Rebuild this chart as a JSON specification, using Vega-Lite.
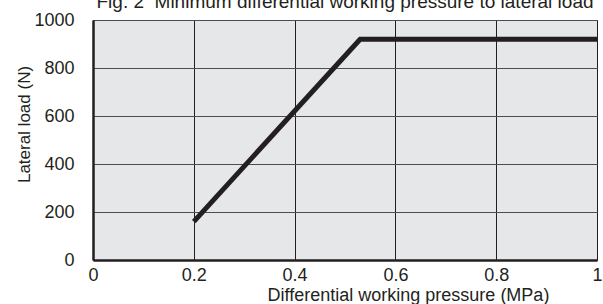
{
  "$schema": "https://vega.github.io/schema/vega-lite/v6.json",
  "width": 504,
  "height": 240,
  "autosize": {"type": "none"},
  "padding": {"left": 93, "top": 20, "right": 6, "bottom": 44},
  "background": "white",
  "title": {
    "text": "Fig. 2\u00a0 Minimum differential working pressure to lateral load",
    "anchor": "middle",
    "frame": "group",
    "baseline": "alphabetic",
    "offset": 10,
    "dy": 26,
    "fontSize": 19,
    "fontWeight": "normal",
    "font": "Liberation Sans",
    "color": "#231f20"
  },
  "config": {
    "font": "Liberation Sans",
    "view": {"fill": "#e6e7e8", "stroke": "#231f20", "strokeWidth": 1},
    "axis": {
      "labelFont": "Liberation Sans",
      "titleFont": "Liberation Sans",
      "labelColor": "#231f20",
      "titleColor": "#231f20",
      "titleFontWeight": "normal",
      "ticks": false,
      "domainColor": "#231f20",
      "domainWidth": 2.5
    }
  },
  "data": {
    "values": [
      {"pressure": 0.2, "load": 160},
      {"pressure": 0.53, "load": 920},
      {"pressure": 1.0, "load": 920}
    ]
  },
  "mark": {"type": "line", "color": "#231f20", "strokeWidth": 5, "strokeCap": "butt", "strokeJoin": "miter", "clip": true},
  "encoding": {
    "x": {
      "field": "pressure",
      "type": "quantitative",
      "scale": {"domain": [0, 1], "nice": false},
      "axis": {
        "values": [0, 0.2, 0.4, 0.6, 0.8, 1],
        "format": "~g",
        "labelFontSize": 18,
        "labelPadding": 6,
        "labelFlush": false,
        "gridColor": "#231f20",
        "gridWidth": 1,
        "gridOpacity": 1,
        "title": "Differential working pressure (MPa)",
        "titleFontSize": 18,
        "titleX": 315,
        "titleY": 40,
        "titleAlign": "center",
        "titleBaseline": "alphabetic"
      }
    },
    "y": {
      "field": "load",
      "type": "quantitative",
      "scale": {"domain": [0, 1000], "nice": false},
      "axis": {
        "values": [0, 200, 400, 600, 800, 1000],
        "format": "d",
        "labelFontSize": 18,
        "labelPadding": 19,
        "gridColor": "#4d4d4f",
        "gridWidth": 1.2,
        "gridOpacity": 1,
        "title": "Lateral load (N)",
        "titleFontSize": 17,
        "titleAngle": -90,
        "titleX": -64,
        "titleY": 104,
        "titleAlign": "center",
        "titleBaseline": "alphabetic"
      }
    }
  }
}
